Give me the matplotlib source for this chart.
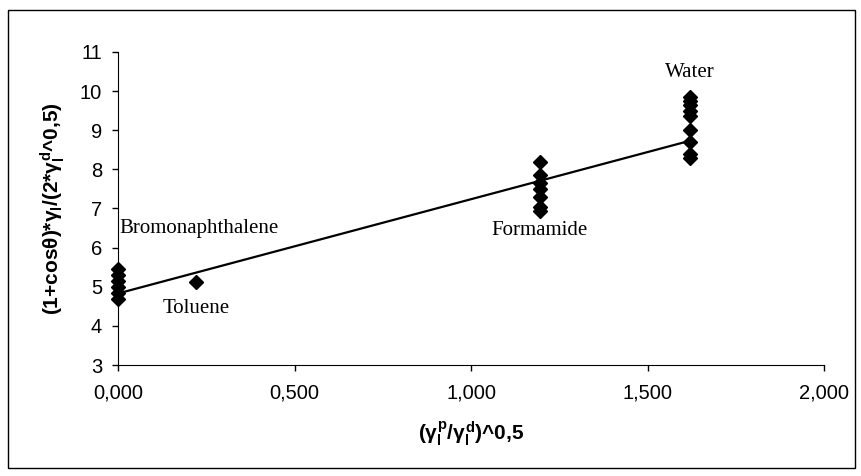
import matplotlib
matplotlib.use('Agg')
import matplotlib.pyplot as plt
from matplotlib.ticker import FuncFormatter, MultipleLocator
from matplotlib.patches import Rectangle

plt.rcParams['font.family'] = ['Liberation Sans', 'DejaVu Sans']
plt.rcParams['mathtext.fontset'] = 'custom'
plt.rcParams['mathtext.rm'] = 'Liberation Sans:bold'
plt.rcParams['mathtext.it'] = 'Liberation Sans:bold'
plt.rcParams['mathtext.bf'] = 'Liberation Sans:bold'

# liquids: x = (gamma_p/gamma_d)^0.5, y = measured values
bromo_x = [0.0] * 6
bromo_y = [5.45, 5.3, 5.15, 5.0, 4.85, 4.7]
toluene_x = [0.222]
toluene_y = [5.12]
formamide_x = [1.195] * 7
formamide_y = [8.2, 7.85, 7.65, 7.5, 7.3, 7.05, 6.93]
water_x = [1.62] * 9
water_y = [9.85, 9.75, 9.65, 9.5, 9.35, 9.0, 8.7, 8.4, 8.28]

# linear trend
trend_x = [0.0, 1.62]
trend_y = [4.83, 8.73]

labels = ['Bromonaphthalene', 'Toluene', 'Formamide', 'Water']
label_pos = [(0.005, 6.5), (0.222, 4.45), (1.195, 6.43), (1.62, 10.48)]

fig = plt.figure(figsize=(8.62, 4.76), dpi=100)
ax = fig.add_axes([0.137, 0.233, 0.819, 0.658])

all_x = bromo_x + toluene_x + formamide_x + water_x
all_y = bromo_y + toluene_y + formamide_y + water_y
ax.plot(trend_x, trend_y, color='black', lw=1.6, zorder=2)
ax.plot(all_x, all_y, linestyle='none', marker='D', markersize=7,
        color='black', zorder=3, clip_on=False)

ax.set_xlim(0, 2.0)
ax.set_ylim(3, 11)
ax.xaxis.set_major_locator(MultipleLocator(0.5))
ax.yaxis.set_major_locator(MultipleLocator(1))
ax.xaxis.set_major_formatter(FuncFormatter(lambda v, p: f'{v:.3f}'.replace('.', ',')))
ax.tick_params(axis='both', labelsize=14.5, direction='out', length=4.5, width=1)
ax.tick_params(axis='x', pad=9)
ax.tick_params(axis='y', pad=7)
ax.spines['top'].set_visible(False)
ax.spines['right'].set_visible(False)

for name, (lx, ly) in zip(labels, label_pos):
    ha = 'left' if name == 'Bromonaphthalene' else 'center'
    ax.text(lx, ly, name, ha=ha, va='center', fontsize=15,
            family='Liberation Serif')

ax.set_xlabel(r'($\gamma_l^p$/$\gamma_l^d$)^0,5', fontsize=15,
              fontweight='bold', labelpad=12)
ax.set_ylabel(r'(1+cos$\theta$)*$\gamma_l$/(2*$\gamma_l^d$^0,5)', fontsize=15,
              fontweight='bold', labelpad=9)

fig.patches.append(Rectangle((8 / 862, 8 / 476), 847 / 862, 458 / 476,
                             transform=fig.transFigure, fill=False,
                             edgecolor='black', lw=1))

fig.savefig('out.png', dpi=100)
